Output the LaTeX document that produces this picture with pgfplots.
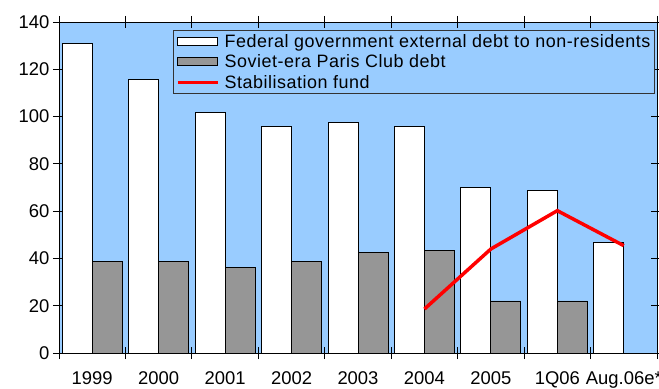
\documentclass[border=0pt]{standalone}
\usepackage{pgfplots}
\pgfplotsset{compat=1.18}
\usepackage{fontspec}
\setmainfont{Liberation Sans}
\definecolor{bgblue}{HTML}{99CCFF}
\definecolor{bargray}{HTML}{969696}
\pgfplotsset{
  boxlegend/.style={legend image code/.code={\draw[##1] (0bp,-4bp) rectangle (40bp,4bp);}},
  linelegend/.style={legend image code/.code={\draw[##1] (0bp,0bp) -- (40bp,0bp);}},
}
\begin{document}
\begin{tikzpicture}
\begin{axis}[
  scale only axis, width=598bp, height=331bp,
  at={(0,0)}, anchor=south west,
  xmin=-0.5, xmax=8.5, ymin=0, ymax=140,
  ybar=0pt, bar width=30bp,
  ytick={0,20,...,140},
  xtick={0,...,8},
  xticklabels={1999,2000,2001,2002,2003,2004,2005,1Q06,Aug.06e*},
  major x tick style={draw=none},
  minor xtick={-0.5,0.5,1.5,2.5,3.5,4.5,5.5,6.5,7.5,8.5},
  tick align=center, major tick length=12bp, minor tick length=12bp,
  tick style={black, line width=0.8pt},
  axis line style={black, line width=0.9pt},
  axis background/.style={fill=bgblue},
  /pgf/number format/assume math mode=true,
  tick label style={font=\fontsize{18.5}{20}\selectfont},
  xticklabel style={yshift=-9bp},
  legend style={at={(0.996,0.976)}, anchor=north east, fill=bgblue, draw=black!80,
    font=\fontsize{18}{19}\selectfont\addfontfeature{LetterSpace=3}, legend cell align=left, row sep=4bp, inner sep=3bp,
    column sep=4bp, nodes={inner sep=1bp}},
]
\addplot[boxlegend, fill=white, draw=black, line width=0.9pt] coordinates {
 (0,131) (1,115.5) (2,101.6) (3,96) (4,97.5) (5,96) (6,70) (7,68.6) (8,46.7)};
\addlegendentry{Federal government external debt to non-residents}
\addplot[boxlegend, fill=bargray, draw=black, line width=0.9pt] coordinates {
 (0,38.9) (1,38.9) (2,36.1) (3,38.9) (4,42.7) (5,43.3) (6,22) (7,22)};
\addlegendentry{Soviet-era Paris Club debt}
\addplot[linelegend, sharp plot, red, line width=3.5pt] coordinates {
 (5,18.6) (6,44) (7,60.2) (8,45.4)};
\addlegendentry{Stabilisation fund}
\end{axis}
\pgfresetboundingbox
\path (-59bp,-36bp) rectangle (600bp,353bp);
\end{tikzpicture}
\end{document}
